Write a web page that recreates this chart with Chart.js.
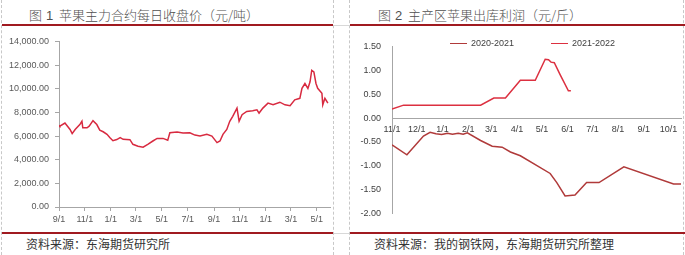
<!DOCTYPE html>
<html>
<head>
<meta charset="utf-8">
<script src="https://cdn.jsdelivr.net/npm/chart.js@4.4.1/dist/chart.umd.min.js"></script>
<style>
    body { margin: 0; width: 685px; height: 255px; background: #fff; position: relative; overflow: hidden; font-family: "Noto Sans CJK SC", sans-serif; }
    .vline { position: absolute; top: 0; height: 255px; border-left: 1px dashed #c8c8c8; }
    .rule { position: absolute; height: 2px; background: #a01a20; }
    .gap { position: absolute; height: 1px; background: #d8d8d8; }
    .title { position: absolute; top: 5px; font-size: 13px; color: #505050; white-space: nowrap; font-weight: 300; }
    .title b { font-family: "Liberation Sans", sans-serif; font-size: 13px; font-weight: normal; margin: 0 3px 0 1px; }
    .src { position: absolute; top: 235px; font-size: 12px; color: #333; white-space: nowrap; }
    canvas { position: absolute; }
    #legend2 { position: absolute; top: 38px; left: 450px; font-family: "Liberation Sans", sans-serif; font-size: 9px; color: #404040; white-space: nowrap; }
    #legend2 span.item { display: inline-block; margin-right: 37px; }
    #legend2 span.swatch { display: inline-block; width: 17px; height: 0; border-top: 1.5px solid; vertical-align: middle; margin-right: 4px; }
</style>
</head>
<body>
<div class="vline" style="left:1px"></div>
<div class="vline" style="left:333px"></div>
<div class="vline" style="left:349px"></div>
<div class="vline" style="left:683px"></div>

<div class="rule" style="left:2px;width:331px;top:24px"></div>
<div class="rule" style="left:350px;width:335px;top:24px"></div>
<div class="rule" style="left:2px;width:331px;top:232px"></div>
<div class="rule" style="left:350px;width:335px;top:232px"></div>
<div class="gap" style="left:334px;width:15px;top:25px"></div>
<div class="gap" style="left:334px;width:15px;top:233px"></div>

<div class="title" style="left:29px">图 <b>1</b> 苹果主力合约每日收盘价（元/吨）</div>
<div class="title" style="left:378px">图 <b>2</b> 主产区苹果出库利润（元/斤）</div>
<div class="src" style="left:26px">资料来源：东海期货研究所</div>
<div class="src" style="left:374px">资料来源：我的钢铁网，东海期货研究所整理</div>

<canvas id="myChart1" width="333" height="200" style="left:0;top:30px"></canvas>
<canvas id="myChart2" width="335" height="200" style="left:350px;top:30px"></canvas>
<div id="legend2"></div>

<script>
// chart 1: apple futures close, x = days since 2020-09-01
const priceDays = [0, 2, 14, 26, 31, 38, 49, 54, 56, 66, 71, 80, 89, 96, 104, 113, 120, 127, 136, 144,
    151, 167, 174, 186, 198, 209, 221, 231, 245, 256, 261, 278, 292, 308, 320, 332, 348, 360, 372, 379,
    386, 395, 402, 409, 419, 424, 431, 442, 456, 466, 471, 480, 492, 504, 520, 532, 544, 555, 567, 572,
    579, 586, 591, 595, 600, 605, 609, 619, 621, 626, 633];
const priceValues = [6900, 6830, 7100, 6550, 6200, 6550, 6970, 7250, 6700, 6700, 6830, 7300, 6970, 6500, 6360, 6140, 5860, 5600, 5700, 5860,
    5720, 5690, 5300, 5140, 5060, 5300, 5580, 5800, 5800, 5640, 6280, 6330, 6250, 6280, 6080, 6000, 6140, 6000, 5440, 5580,
    6140, 6560, 7250, 7670, 8360, 7250, 7800, 8080, 8140, 8220, 7940, 8360, 8780, 8640, 8860, 8640, 8560, 9060, 9190, 10030,
    10440, 10030, 10580, 11560, 11420, 10440, 10030, 9610, 8640, 9190, 8780];
const priceTickDays = [0, 61, 122, 181, 242, 303, 365, 426, 487, 546, 607];
const priceTickLabels = ['9/1', '11/1', '1/1', '3/1', '5/1', '7/1', '9/1', '11/1', '1/1', '3/1', '5/1'];

// chart 2: storage profit, x = days since 11/1
const seriesNames = ['2020-2021', '2021-2022'];
const seriesColors = ['#b03a3a', '#dc3040'];
const profit2021Days = [0, 18, 38, 46, 53, 60, 67, 73, 80, 86, 91, 107, 121, 133, 143, 155, 191, 199, 209, 221, 235, 250, 280, 340, 349];
const profit2021Values = [-0.56, -0.77, -0.375, -0.30, -0.33, -0.345, -0.32, -0.34, -0.32, -0.34, -0.31, -0.47, -0.59, -0.61, -0.71, -0.79, -1.16, -1.35, -1.63, -1.61, -1.35, -1.35, -1.02, -1.38, -1.38];
const profit2122Days = [0, 14, 107, 123, 137, 155, 173, 185, 189, 192, 196, 203, 213, 216];
const profit2122Values = [0.19, 0.27, 0.27, 0.42, 0.42, 0.79, 0.79, 1.23, 1.22, 1.17, 1.16, 0.91, 0.57, 0.57];
const monthTickDays = [0, 30, 61, 92, 120, 151, 181, 212, 242, 273, 304, 334];
const monthTickLabels = ['11/1', '12/1', '1/1', '2/1', '3/1', '4/1', '5/1', '6/1', '7/1', '8/1', '9/1', '10/1'];

function toPoints(xs, ys) {
    return xs.map((x, i) => ({ x: x, y: ys[i] }));
}

Chart.defaults.font.family = '"Liberation Sans", Arial, sans-serif';
Chart.defaults.font.size = 9;
Chart.defaults.color = '#595959';

document.addEventListener('DOMContentLoaded', function () {
    const ctx = document.getElementById('myChart1').getContext('2d');

    new Chart(ctx, {
        type: 'line',
        data: {
            datasets: [{
                data: toPoints(priceDays, priceValues),
                borderColor: '#d82a40',
                borderWidth: 1.5,
                pointRadius: 0,
                tension: 0
            }]
        },
        options: {
            responsive: false,
            animation: false,
            layout: { padding: { top: 10, right: 3, left: 0, bottom: 0 } },
            plugins: { legend: { display: false }, tooltip: { enabled: false } },
            scales: {
                x: {
                    type: 'linear',
                    min: 0,
                    max: 638,
                    afterBuildTicks: scale => { scale.ticks = priceTickDays.map(v => ({ value: v })); },
                    afterFit: scale => { scale.height = 23; },
                    ticks: {
                        autoSkip: false,
                        maxRotation: 0,
                        padding: 3,
                        callback: (value, index) => priceTickLabels[index]
                    },
                    grid: { drawOnChartArea: false, tickLength: 4, color: '#a6a6a6' },
                    border: { color: '#a6a6a6' }
                },
                y: {
                    min: 0,
                    max: 14000,
                    afterBuildTicks: scale => {
                        scale.ticks = [0, 2000, 4000, 6000, 8000, 10000, 12000, 14000].map(v => ({ value: v }));
                    },
                    afterFit: scale => { scale.width = 59; },
                    ticks: {
                        padding: 6,
                        callback: value => value.toLocaleString('en-US', { minimumFractionDigits: 2, maximumFractionDigits: 2 })
                    },
                    grid: { drawOnChartArea: false, tickLength: 4, color: '#a6a6a6' },
                    border: { color: '#a6a6a6' }
                }
            }
        }
    });
});

document.addEventListener('DOMContentLoaded', function () {
    const ctx = document.getElementById('myChart2').getContext('2d');

    const legend = document.getElementById('legend2');
    seriesNames.forEach((name, i) => {
        legend.innerHTML += '<span class="item"><span class="swatch" style="border-color:' + seriesColors[i] + '"></span>' + name + '</span>';
    });

    new Chart(ctx, {
        type: 'line',
        data: {
            datasets: [{
                label: seriesNames[0],
                data: toPoints(profit2021Days, profit2021Values),
                borderColor: seriesColors[0],
                borderWidth: 1.5,
                pointRadius: 0,
                tension: 0
            }, {
                label: seriesNames[1],
                data: toPoints(profit2122Days, profit2122Values),
                borderColor: seriesColors[1],
                borderWidth: 1.5,
                pointRadius: 0,
                tension: 0
            }]
        },
        options: {
            responsive: false,
            animation: false,
            layout: { padding: { top: 8, right: 4, left: 0, bottom: 5 } },
            plugins: { legend: { display: false }, tooltip: { enabled: false } },
            scales: {
                x: {
                    type: 'linear',
                    position: { y: 0 },
                    min: 0,
                    max: 349,
                    afterBuildTicks: scale => { scale.ticks = monthTickDays.map(v => ({ value: v })); },
                    ticks: {
                        autoSkip: false,
                        maxRotation: 0,
                        padding: 6,
                        color: '#404040',
                        callback: (value, index) => monthTickLabels[index]
                    },
                    grid: { drawOnChartArea: false, drawTicks: false, color: '#a6a6a6' },
                    border: { color: '#a6a6a6' }
                },
                y: {
                    min: -2,
                    max: 1.5,
                    afterBuildTicks: scale => {
                        scale.ticks = [-2, -1.5, -1, -0.5, 0, 0.5, 1, 1.5].map(v => ({ value: v }));
                    },
                    afterFit: scale => { scale.width = 42; },
                    ticks: {
                        padding: 11,
                        color: '#404040',
                        callback: value => value.toFixed(2)
                    },
                    grid: { drawOnChartArea: false, drawTicks: false, color: '#a6a6a6' },
                    border: { color: '#a6a6a6' }
                }
            }
        }
    });
});
</script>
</body>
</html>
